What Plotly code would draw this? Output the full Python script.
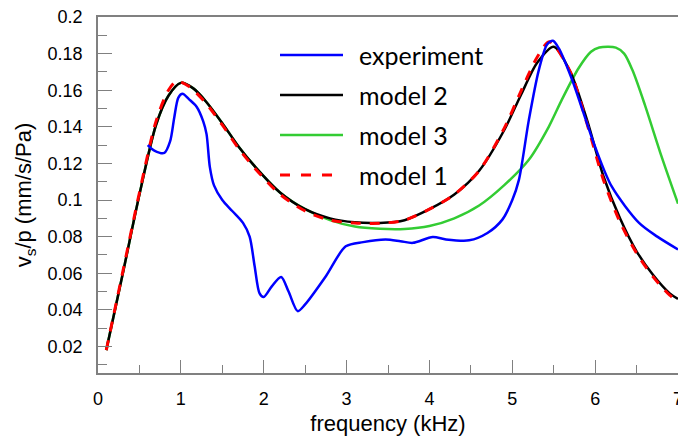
import plotly.graph_objects as go

# ---- data ----
f_exp = [0.6, 0.68, 0.8, 0.87, 0.92, 0.97, 1.02, 1.1, 1.19, 1.27, 1.31, 1.35, 1.4, 1.5, 1.62,
         1.75, 1.83, 1.89, 1.95, 2.0, 2.1, 2.21, 2.3, 2.41, 2.5, 2.75, 2.99, 3.2, 3.47, 3.65,
         3.8, 4.04, 4.2, 4.48, 4.7, 4.88, 5.0, 5.08, 5.2, 5.32, 5.42, 5.49, 5.56, 5.72, 6.0,
         6.2, 6.53, 6.75, 7.0]
v_exp = [0.130, 0.127, 0.1257, 0.132, 0.145, 0.156, 0.158, 0.155, 0.151, 0.143, 0.136, 0.118,
         0.108, 0.100, 0.094, 0.0875, 0.080, 0.064, 0.049, 0.047, 0.053, 0.058, 0.050, 0.0393,
         0.043, 0.0584, 0.0747, 0.077, 0.0784, 0.0775, 0.0766, 0.0798, 0.0785, 0.078, 0.082,
         0.0893, 0.100, 0.111, 0.1438, 0.171, 0.185, 0.187, 0.183, 0.166, 0.129, 0.1074,
         0.0875, 0.080, 0.073]

f_m2 = [0.1, 0.3, 0.5, 0.7, 0.85, 1.0, 1.15, 1.3, 1.5, 1.7, 1.9, 2.2, 2.5, 2.8, 3.1, 3.4,
        3.7, 4.0, 4.3, 4.6, 4.9, 5.1, 5.3, 5.5, 5.7, 5.9, 6.1, 6.3, 6.5, 6.7, 6.9, 7.0]
v_m2 = [0.018, 0.060, 0.103, 0.141, 0.157, 0.164, 0.161, 0.154, 0.142, 0.129, 0.118, 0.104,
        0.095, 0.090, 0.0878, 0.0875, 0.089, 0.095, 0.103, 0.116, 0.138, 0.157, 0.175, 0.1838,
        0.170, 0.144, 0.113, 0.090, 0.072, 0.059, 0.049, 0.046]

f_m1 = [0.1, 0.3, 0.5, 0.7, 0.85, 0.95, 1.1, 1.3, 1.5, 1.7, 1.9, 2.2, 2.5, 2.8, 3.1, 3.4,
        3.7, 4.0, 4.3, 4.6, 4.9, 5.1, 5.3, 5.45, 5.7, 5.9, 6.1, 6.3, 6.5, 6.7, 6.9, 7.0]
v_m1 = [0.018, 0.061, 0.104, 0.143, 0.160, 0.165, 0.162, 0.153, 0.141, 0.128, 0.117, 0.103,
        0.094, 0.089, 0.0875, 0.0873, 0.089, 0.095, 0.103, 0.116, 0.139, 0.159, 0.178, 0.1865,
        0.170, 0.142, 0.111, 0.088, 0.071, 0.058, 0.048, 0.045]

f_m3 = [0.1, 0.3, 0.5, 0.7, 0.85, 1.0, 1.15, 1.3, 1.5, 1.7, 1.9, 2.2, 2.5, 2.8, 3.1, 3.4,
        3.7, 4.0, 4.3, 4.6, 4.9, 5.2, 5.44, 5.6, 5.8, 5.95, 6.05, 6.25, 6.35, 6.45, 6.6, 6.8, 7.0]
v_m3 = [0.018, 0.060, 0.103, 0.141, 0.157, 0.164, 0.161, 0.154, 0.142, 0.129, 0.118, 0.104,
        0.095, 0.089, 0.0855, 0.0843, 0.0842, 0.0858, 0.090, 0.097, 0.108, 0.122, 0.140, 0.155,
        0.172, 0.181, 0.1833, 0.1833, 0.180, 0.171, 0.152, 0.124, 0.098]

y_tickvals = [0.02, 0.04, 0.06, 0.08, 0.1, 0.12, 0.14, 0.16, 0.18, 0.2]
y_ticktext = ["0.02", "0.04", "0.06", "0.08", "0.1", "0.12", "0.14", "0.16", "0.18", "0.2"]
x_tickvals = [0, 1, 2, 3, 4, 5, 6, 7]

legend_names = ["experiment", "model 2", "model 3", "model 1"]
legend_colors = ["#0000FF", "#000000", "#33CC33", "#FF0000"]
legend_dash = ["solid", "solid", "solid", "dash"]

# ---- figure ----
W, H = 678, 436
ML, MR, MT, MB = 98, 0, 17, 63
fig = go.Figure()
fig.add_trace(go.Scatter(x=f_m3, y=v_m3, mode="lines", line=dict(color="#33CC33", width=2.5, shape="spline", smoothing=0.8)))
fig.add_trace(go.Scatter(x=f_m2, y=v_m2, mode="lines", line=dict(color="#000000", width=2.5, shape="spline", smoothing=0.8)))
fig.add_trace(go.Scatter(x=f_m1, y=v_m1, mode="lines", line=dict(color="#FF0000", width=3, dash="10px,9px", shape="spline", smoothing=0.8)))
fig.add_trace(go.Scatter(x=f_exp, y=v_exp, mode="lines", line=dict(color="#0000FF", width=2.5, shape="spline", smoothing=0.8)))

axis_common = dict(showgrid=False, zeroline=False, showline=True, linecolor="#808080",
                   linewidth=1.5, mirror=True, ticks="inside", tickcolor="#808080",
                   tickwidth=1.3, ticklabeloverflow="allow", automargin=False,
                   tickfont=dict(family="Liberation Sans, Arial", size=18, color="black"))
fig.update_xaxes(range=[0, 7], tickvals=x_tickvals, ticklen=13,
                 minor=dict(dtick=0.5, ticks="inside", ticklen=8, tickcolor="#808080", tickwidth=1.3),
                 title=dict(text="frequency (kHz)", font=dict(family="Liberation Sans, Arial", size=22, color="black"), standoff=7),
                 ticklabelstandoff=9, **axis_common)
fig.update_yaxes(range=[0.0055, 0.2], tickvals=y_tickvals, ticktext=y_ticktext, ticklen=14,
                 minor=dict(tick0=0, dtick=0.01, ticks="inside", ticklen=9, tickcolor="#808080", tickwidth=1.3),
                 title=dict(text="v<sub>s</sub>/p (mm/s/Pa)", font=dict(family="Liberation Sans, Arial", size=22, color="black"), standoff=10),
                 ticklabelstandoff=10, **axis_common)

# ---- custom legend (line samples 63 px long) ----
pw, ph = W - ML - MR, H - MT - MB
def px_x(p):
    return (p - ML) / pw
def px_y(p):
    return (H - MB - p) / ph
rows = [55, 95, 135, 175]
for name, col, dsh, ry in zip(legend_names, legend_colors, legend_dash, rows):
    fig.add_shape(type="line", xref="paper", yref="paper", x0=px_x(280), x1=px_x(343),
                  y0=px_y(ry), y1=px_y(ry),
                  line=dict(color=col, width=3 if dsh == "dash" else 2.5,
                            dash="10px,11px" if dsh == "dash" else "solid"))
    fig.add_annotation(xref="paper", yref="paper", x=px_x(357), y=px_y(ry), text=name,
                       showarrow=False, xanchor="left", yanchor="middle",
                       font=dict(family="Lato, Open Sans", size=25, color="black"))

fig.update_layout(width=W, height=H, margin=dict(l=ML, r=MR, t=MT, b=MB, autoexpand=False),
                  plot_bgcolor="white", paper_bgcolor="white", showlegend=False)
fig.write_html("out.html")
